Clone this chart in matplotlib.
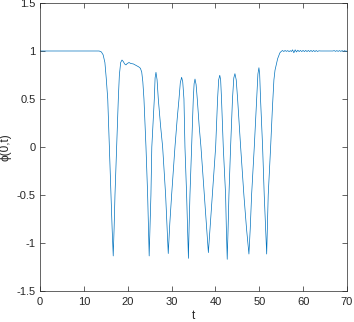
"""
Recreates the phi(0,t) time trace (MATLAB-style single line plot).
"""

import matplotlib
matplotlib.use("Agg")
import matplotlib.pyplot as plt


# values
t_values = [
    0.0, 13.0, 13.5, 14.0, 14.4, 14.8, 15.1, 15.45, 15.81, 16.19, 16.45, 16.7,
    16.9, 17.1, 17.48, 17.86, 18.1, 18.4, 18.7, 19.0, 19.3, 19.6, 19.9, 20.3,
    20.7, 21.3, 21.9, 22.5, 22.9, 23.2, 23.45, 23.71, 24.17, 24.55, 24.75, 24.9,
    25.1, 25.3, 25.5, 26.07, 26.25, 26.45, 26.7, 26.98, 27.5, 27.97, 28.65, 28.95,
    29.25, 29.6, 30.02, 30.78, 31.3, 31.7, 32.0, 32.3, 32.55, 32.83, 33.06, 33.44,
    33.65, 33.85, 34.0, 34.2, 34.58, 34.96, 35.15, 35.35, 35.6, 35.87, 36.3, 36.71,
    37.47, 37.95, 38.4, 38.85, 39.3, 40.06, 40.5, 40.75, 41.0, 41.2, 41.4, 41.8,
    42.33, 42.5, 42.7, 42.9, 43.09, 43.47, 43.9, 44.2, 44.46, 44.75, 45.07, 45.76,
    46.5, 47.1, 47.65, 47.95, 48.26, 48.87, 49.4, 49.7, 49.93, 50.1, 50.3, 50.77,
    51.14, 51.45, 51.7, 51.85, 52.05, 52.6, 53.0, 53.35, 53.6, 54.2, 54.7, 55.0,
    55.3, 55.6, 55.9, 56.2, 56.5, 56.8, 57.1, 57.35, 57.6, 57.9, 58.2, 58.5,
    58.8, 59.1, 59.4, 59.7, 60.0, 60.3, 60.6, 60.9, 61.2, 61.5, 61.8, 62.1,
    62.4, 62.7, 63.0, 63.3, 63.6, 64.0, 66.8, 67.1, 67.4, 67.7, 68.0, 68.3,
    68.6, 68.9, 69.2, 69.5, 69.8, 70.0,
]
phi_values = [
    1.0, 1.0, 1.0, 0.99, 0.96, 0.88, 0.72, 0.5, 0.0, -0.5, -0.85, -1.135,
    -0.85, -0.5, 0.0, 0.5, 0.75, 0.88, 0.906, 0.89, 0.865, 0.855, 0.87, 0.88,
    0.87, 0.865, 0.85, 0.835, 0.82, 0.78, 0.68, 0.5, 0.0, -0.5, -0.85, -1.135,
    -0.8, -0.5, 0.0, 0.5, 0.72, 0.778, 0.7, 0.5, 0.22, 0.0, -0.5, -0.8,
    -1.11, -0.8, -0.5, 0.0, 0.3, 0.5, 0.67, 0.726, 0.68, 0.5, 0.0, -0.5,
    -0.85, -1.16, -0.85, -0.5, 0.0, 0.5, 0.66, 0.708, 0.65, 0.5, 0.22, 0.0,
    -0.5, -0.8, -1.10, -0.8, -0.5, 0.0, 0.5, 0.7, 0.747, 0.7, 0.5, 0.0,
    -0.5, -0.85, -1.17, -0.85, -0.5, 0.0, 0.5, 0.72, 0.764, 0.7, 0.5, 0.0,
    -0.5, -0.85, -1.115, -0.85, -0.5, 0.0, 0.5, 0.76, 0.826, 0.76, 0.5, 0.0,
    -0.5, -0.85, -1.115, -0.85, -0.5, 0.0, 0.4, 0.7, 0.8, 0.92, 0.98, 0.995,
    1.005, 0.995, 1.005, 0.996, 1.004, 0.994, 1.003, 0.995, 1.012, 0.982, 1.012, 0.99,
    1.008, 0.994, 1.006, 0.994, 1.006, 0.994, 1.006, 0.994, 1.006, 0.994, 1.006, 0.994,
    1.006, 0.994, 1.005, 0.995, 1.002, 1.0, 1.0, 1.004, 0.996, 1.004, 0.996, 1.004,
    0.996, 1.004, 0.996, 1.004, 0.996, 1.0,
]

x_ticks = [0, 10, 20, 30, 40, 50, 60, 70]
y_ticks = [-1.5, -1.0, -0.5, 0.0, 0.5, 1.0, 1.5]
y_tick_labels = ["-1.5", "-1", "-0.5", "0", "0.5", "1", "1.5"]

LINE_COLOR = "#0072BD"
AXIS_COLOR = "#262626"
FONT = ["Liberation Sans", "DejaVu Sans"]


def main():
    plt.rcParams["font.family"] = FONT

    fig = plt.figure(figsize=(3.54, 3.22), dpi=100)
    ax = fig.add_axes([0.113, 0.0963, 0.867, 0.8944])

    ax.plot(t_values, phi_values, color=LINE_COLOR, linewidth=0.5)

    ax.set_xlim(0, 70)
    ax.set_ylim(-1.5, 1.5)
    ax.set_xticks(x_ticks)
    ax.set_yticks(y_ticks)
    ax.set_yticklabels(y_tick_labels)

    ax.tick_params(direction="in", length=3.5, width=0.5, colors=AXIS_COLOR,
                   labelsize=8, top=True, right=True)
    ax.tick_params(axis="x", pad=4)
    ax.tick_params(axis="y", pad=3)
    for spine in ax.spines.values():
        spine.set_linewidth(0.5)
        spine.set_color(AXIS_COLOR)

    ax.set_xlabel("t", fontsize=8.5, color=AXIS_COLOR, labelpad=2.5)
    ax.set_ylabel("ϕ(0,t)", fontsize=8.5, color=AXIS_COLOR, labelpad=4)

    fig.savefig("out.png", dpi=100)
    plt.close(fig)


if __name__ == "__main__":
    main()
